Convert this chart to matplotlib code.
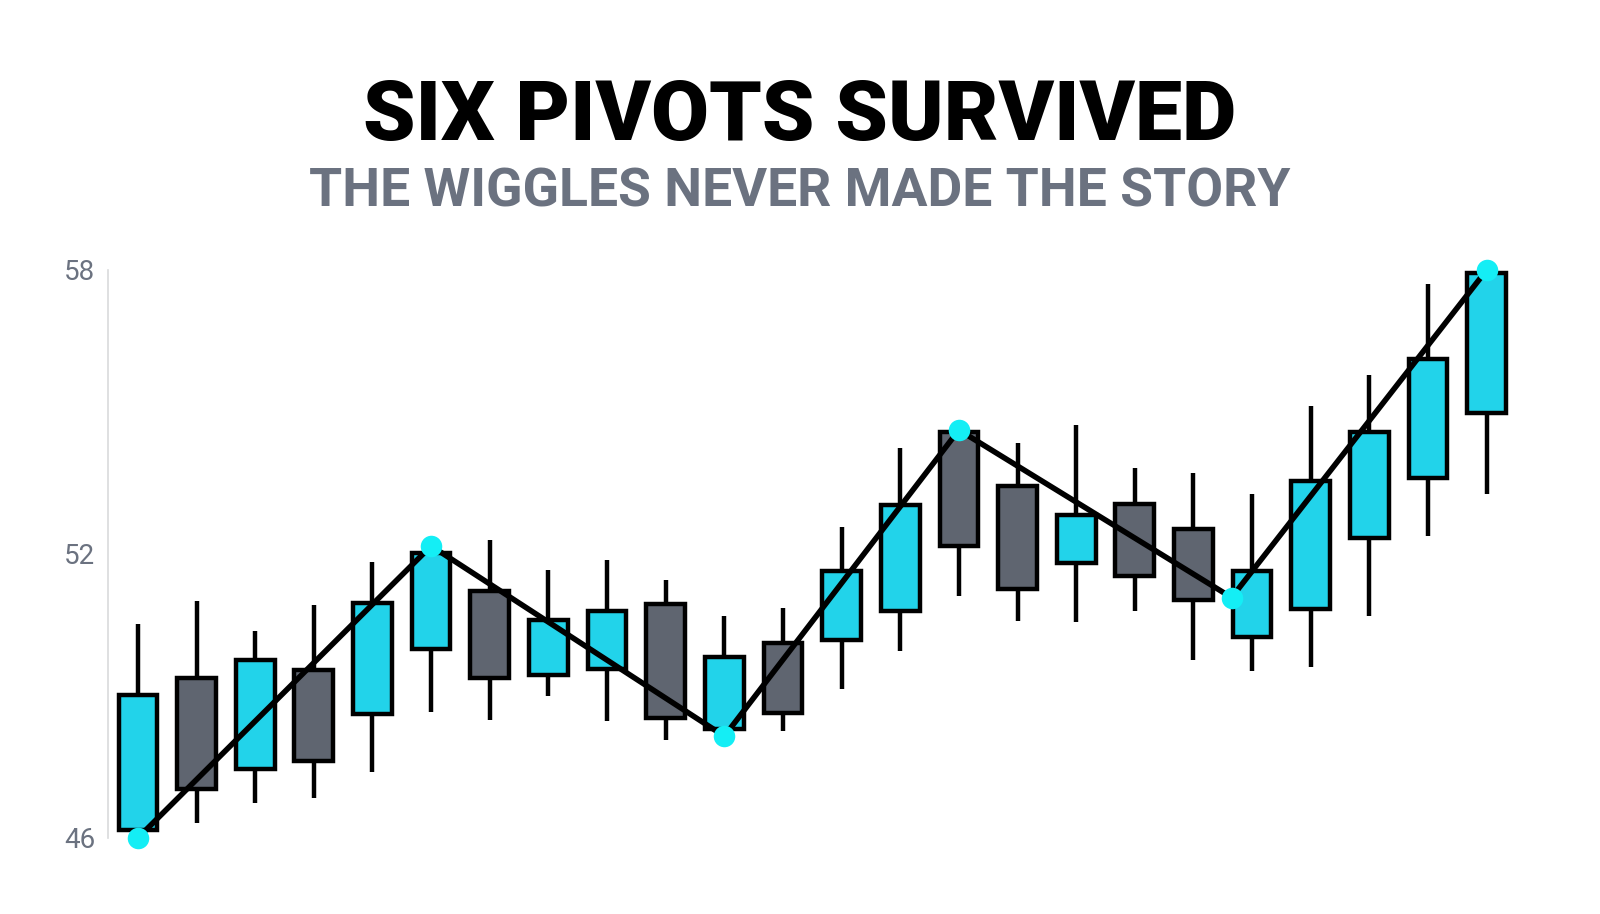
import matplotlib
matplotlib.use("Agg")
import matplotlib.pyplot as plt

# candle data
opens = [46.17, 49.39, 47.45, 49.54, 48.61, 50.00, 51.21, 49.45, 49.57, 50.95, 48.30, 50.11,
         50.19, 50.80, 54.58, 53.44, 51.81, 53.05, 52.52, 50.24, 50.84, 52.34, 53.61, 54.97]
closes = [49.03, 47.03, 49.76, 47.62, 50.97, 52.02, 49.38, 50.61, 50.80, 48.54, 49.83, 48.65,
          51.63, 53.03, 52.17, 51.25, 52.82, 51.53, 51.03, 51.63, 53.55, 54.58, 56.13, 57.94]
highs = [50.52, 51.01, 50.38, 50.93, 51.82, 52.17, 52.29, 51.67, 51.87, 51.46, 50.69, 50.86,
         52.56, 54.24, 54.60, 54.34, 54.73, 53.81, 53.72, 53.27, 55.12, 55.78, 57.70, 58.00]
lows = [46.00, 46.32, 46.73, 46.85, 47.40, 48.67, 48.50, 48.99, 48.47, 48.06, 48.15, 48.26,
        49.14, 49.94, 51.12, 50.58, 50.56, 50.80, 49.76, 49.53, 49.61, 50.69, 52.39, 53.27]

# zigzag pivots
pivot_x = [0, 5, 10, 14, 18.65, 23]
pivot_y = [46.0, 52.17, 48.15, 54.62, 51.08, 58.0]

y_ticks = [46, 52, 58]

UP = "#22d3ea"
DOWN = "#5f6570"
DOT = "#14eef5"
MUTED = "#6b7280"

plt.rcParams['font.family'] = ['Roboto', 'DejaVu Sans']

fig = plt.figure(figsize=(16, 9.14), dpi=100)
ax = fig.add_axes([0.0675, 0.0832, 0.88, 0.6214])

x = list(range(len(opens)))
colors = [UP if c >= o else DOWN for o, c in zip(opens, closes)]

# wicks under the bodies
ax.vlines(x, lows, highs, color="black", linewidth=3.2, zorder=1)
ax.bar(x, [c - o for o, c in zip(opens, closes)], bottom=opens, width=0.66,
       color=colors, edgecolor="black", linewidth=3.2, zorder=2)

# zigzag line and pivot dots
ax.plot(pivot_x, pivot_y, color="black", linewidth=4.0, solid_capstyle="round", zorder=3)
ax.plot(pivot_x, pivot_y, linestyle="none", marker="o", markersize=15.5,
        markerfacecolor=DOT, markeredgewidth=0, zorder=4, clip_on=False)

ax.set_xlim(-0.51, 23.5)
ax.set_ylim(46, 58)
ax.set_yticks(y_ticks)
ax.set_yticklabels([str(t) for t in y_ticks])
ax.tick_params(axis="y", length=0, pad=9, labelsize=20, labelcolor=MUTED)
ax.set_xticks([])
for side in ["top", "right", "bottom"]:
    ax.spines[side].set_visible(False)
ax.spines["left"].set_color("#d9dadc")
ax.spines["left"].set_linewidth(1.2)

fig.text(0.5, 0.8468, "SIX PIVOTS SURVIVED", ha="center", va="baseline",
         fontsize=60.5, fontweight="black", color="black")
fig.text(0.5, 0.7746, "THE WIGGLES NEVER MADE THE STORY", ha="center", va="baseline",
         fontsize=38.5, fontweight="bold", color=MUTED)

fig.savefig("out.png", dpi=100, facecolor="white")
